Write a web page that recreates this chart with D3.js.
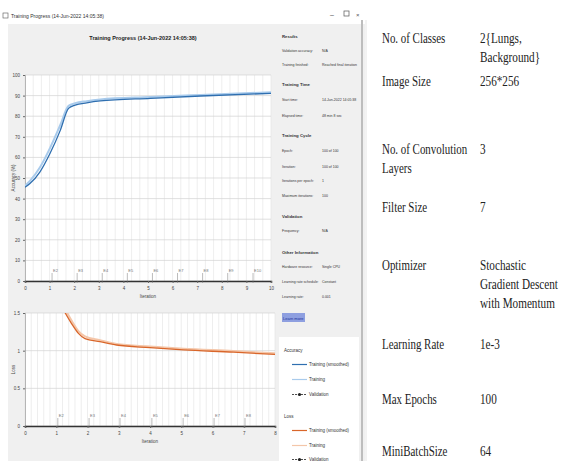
<!DOCTYPE html>
<html><head><meta charset="utf-8">
<script src="https://cdn.jsdelivr.net/npm/d3@7"></script>
<style>body{margin:0;background:#fff}svg{display:block;font-family:"Liberation Sans",Arial,sans-serif}</style>
</head><body>
<svg id="c" width="563" height="461"></svg>
<script>
// ---------- data ----------
const accTicks = [0,10,20,30,40,50,60,70,80,90,100];
const topXTicks = [0,1,2,3,4,5,6,7,8,9,10];
const accX = [0,0.2,0.61,1.02,1.43,1.77,2.04,2.51,3.06,5.1,7.14,10];
const accSmooth = [45.5,47.3,53,62,73,83.8,85.4,86.5,87.4,88.7,89.8,91.1];
const accRaw = [46.2,48.6,55.2,64.6,75.6,85.0,86.3,87.3,88.1,89.3,90.3,91.6];
const epochTop = [1.1,2.12,3.14,4.16,5.18,6.2,7.22,8.24,9.27];

const lossTicks = [0,0.5,1,1.5];
const botXTicks = [0,1,2,3,4,5,6,7,8];
const lossX = [1.22,1.49,1.71,1.92,2.4,2.93,4,5.07,6.67,8];
const lossSmooth = [1.55,1.36,1.23,1.16,1.12,1.075,1.04,1.01,0.98,0.95];
const lossRaw = [1.6,1.4,1.26,1.19,1.14,1.09,1.055,1.025,0.995,0.965];
const epochBot = [1.05,2.05,3.04,4.06,5.06,6.05,7.04];

const infoLines = [
  ["Results","",true],["Validation accuracy:","N/A"],["Training finished:","Reached final iteration"],
  ["Training Time","",true],["Start time:","14-Jun-2022 14:05:38"],["Elapsed time:","48 min 8 sec"],
  ["Training Cycle","",true],["Epoch:","100 of 100"],["Iteration:","100 of 100"],["Iterations per epoch:","1"],["Maximum iterations:","100"],
  ["Validation","",true],["Frequency:","N/A"],
  ["Other Information","",true],["Hardware resource:","Single CPU"],["Learning rate schedule:","Constant"],["Learning rate:","0.001"]
];
const infoY = [38,52,66,86,101,117,137,152,168,182,197,218,232,254,268,283,298];

const tableLabels = [["No. of Classes"],["Image Size"],["No. of Convolution","Layers"],["Filter Size"],["Optimizer"],["Learning Rate"],["Max Epochs"],["MiniBatchSize"]];
const tableValues = [["2{Lungs,","Background}"],["256*256"],["3"],["7"],["Stochastic","Gradient Descent","with Momentum"],["1e-3"],["100"],["64"]];
const tableY = [43,86,154,212,270,349,404,456];

// ---------- drawing ----------
const svg = d3.select("#c");
const BLUE="#2f6fb0", LBLUE="#a9cbec", ORANGE="#d9662a", LORANGE="#f4c6a9";

// window background
svg.append("rect").attr("x",0).attr("y",0).attr("width",365).attr("height",461).attr("fill","#ffffff");
svg.append("rect").attr("x",8).attr("y",24).attr("width",357).attr("height",437).attr("fill","#f0f0f0");
// title bar
svg.append("rect").attr("x",3).attr("y",13).attr("width",5).attr("height",5).attr("fill","none").attr("stroke","#555").attr("stroke-width",0.6);
svg.append("text").attr("x",11).attr("y",18).attr("font-size",5).attr("fill","#333").text("Training Progress (14-Jun-2022 14:05:38)");
svg.append("text").attr("x",330).attr("y",17).attr("font-size",7).attr("fill","#555").text("–");
svg.append("rect").attr("x",344).attr("y",11).attr("width",5).attr("height",5).attr("fill","none").attr("stroke","#555").attr("stroke-width",0.7);
svg.append("text").attr("x",356).attr("y",17).attr("font-size",6).attr("fill","#555").text("×");
svg.append("text").attr("x",143).attr("y",40).attr("text-anchor","middle").attr("font-size",5.5).attr("font-weight","bold").attr("fill","#222").text("Training Progress (14-Jun-2022 14:05:38)");

function panel(g, x0, x1, y0, y1, xScaleDom, yDom, xTicks, yTicks, minorStep, yFmt, ylabel, epochs, clipId){
  const x = d3.scaleLinear().domain(xScaleDom).range([x0,x1]);
  const y = d3.scaleLinear().domain(yDom).range([y1,y0]);
  g.append("rect").attr("x",x0).attr("y",y0).attr("width",x1-x0).attr("height",y1-y0).attr("fill","#fff");
  g.append("g").selectAll("line").data(d3.range(xScaleDom[0],xScaleDom[1]+1e-6,minorStep)).join("line")
    .attr("x1",d=>x(d)).attr("x2",d=>x(d)).attr("y1",y0).attr("y2",y1).attr("stroke","#e3e3e3").attr("stroke-width",0.6);
  g.append("g").selectAll("line").data(yTicks).join("line")
    .attr("x1",x0).attr("x2",x1).attr("y1",d=>y(d)).attr("y2",d=>y(d)).attr("stroke","#d2d2d2").attr("stroke-width",0.7);
  const ya = g.append("g").attr("transform",`translate(${x0},0)`).call(d3.axisLeft(y).tickValues(yTicks).tickFormat(yFmt).tickSize(2));
  ya.select(".domain").attr("stroke","#888").attr("stroke-width",0.6);
  ya.selectAll("text").attr("font-size",4.5).attr("fill","#444");
  ya.selectAll("line").attr("stroke","#666");
  const xa = g.append("g").attr("transform",`translate(0,${y1})`).call(d3.axisBottom(x).tickValues(xTicks).tickSize(2).tickFormat(d3.format("d")));
  xa.select(".domain").attr("stroke","#333").attr("stroke-width",1.5);
  xa.selectAll("text").attr("font-size",4.5).attr("fill","#444").attr("dy","0.9em");
  xa.selectAll("line").attr("stroke","#666");
  const em = g.append("g").selectAll("g").data(epochs).join("g");
  em.append("line").attr("x1",d=>x(d)).attr("x2",d=>x(d)).attr("y1",y1-8).attr("y2",y1+2).attr("stroke","#777").attr("stroke-width",0.5);
  em.append("text").attr("x",d=>x(d)+1).attr("y",y1-9).attr("font-size",4).attr("fill","#777").text((d,i)=>"E"+(i+2));
  g.append("text").attr("x",(x0+x1)/2).attr("y",y1+17).attr("text-anchor","middle").attr("font-size",4.5).attr("fill","#444").text("Iteration");
  g.append("text").attr("transform",`translate(${x0-10},${(y0+y1)/2}) rotate(-90)`).attr("text-anchor","middle").attr("font-size",4.5).attr("fill","#444").text(ylabel);
  g.append("clipPath").attr("id",clipId).append("rect").attr("x",x0).attr("y",y0).attr("width",x1-x0).attr("height",y1-y0);
  return {x,y};
}

const gTop = svg.append("g");
const t = panel(gTop,25,271,75,281,[0,10],[0,100],topXTicks,accTicks,1/3,d=>d,"Accuracy (%)",epochTop,"clipTop");
const lineTop = d3.line().x((d,i)=>t.x(accX[i])).y(d=>t.y(d)).curve(d3.curveMonotoneX);
gTop.append("path").attr("clip-path","url(#clipTop)").attr("d",lineTop(accRaw)).attr("fill","none").attr("stroke",LBLUE).attr("stroke-width",2);
gTop.append("path").attr("clip-path","url(#clipTop)").attr("d",lineTop(accSmooth)).attr("fill","none").attr("stroke",BLUE).attr("stroke-width",1.3);

const gBot = svg.append("g");
const b = panel(gBot,25,275,313,426,[0,8],[0,1.5],botXTicks,lossTicks,0.2,d=>d,"Loss",epochBot,"clipBot");
const lineBot = d3.line().x((d,i)=>b.x(lossX[i])).y(d=>b.y(d)).curve(d3.curveMonotoneX);
gBot.append("path").attr("clip-path","url(#clipBot)").attr("d",lineBot(lossRaw)).attr("fill","none").attr("stroke",LORANGE).attr("stroke-width",2);
gBot.append("path").attr("clip-path","url(#clipBot)").attr("d",lineBot(lossSmooth)).attr("fill","none").attr("stroke",ORANGE).attr("stroke-width",1.3);

// info panel
const info = svg.append("g");
info.append("line").attr("x1",362).attr("x2",362).attr("y1",20).attr("y2",461).attr("stroke","#bdbdbd").attr("stroke-width",2);
info.selectAll("text.l").data(infoLines).join("text").attr("x",282).attr("y",(d,i)=>infoY[i])
  .attr("font-size",d=>d[2]?4.3:3.5).attr("font-weight",d=>d[2]?"bold":"normal").attr("fill","#333").text(d=>d[0]);
info.selectAll("text.v").data(infoLines.filter(d=>d[1])).join("text")
  .attr("x",322).attr("y",d=>infoY[infoLines.indexOf(d)]).attr("font-size",3.5).attr("fill","#333").text(d=>d[1]);
info.append("rect").attr("x",282).attr("y",313).attr("width",23).attr("height",9).attr("fill","#8e9fe0");
info.append("text").attr("x",283).attr("y",319.5).attr("font-size",4).attr("fill","#1b2f9a").text("Learn more");

// legend
const leg = svg.append("g");
leg.append("rect").attr("x",279).attr("y",337).attr("width",80).attr("height",124).attr("fill","#fff");
const legItems = [
  {t:"Accuracy",y:352,h:true},{t:"Training (smoothed)",y:366,c:BLUE},{t:"Training",y:381,c:LBLUE},{t:"Validation",y:396,c:"#222",m:true},
  {t:"Loss",y:418,h:true},{t:"Training (smoothed)",y:432,c:ORANGE},{t:"Training",y:447,c:LORANGE},{t:"Validation",y:461,c:"#222",m:true}
];
legItems.forEach(d=>{
  if(d.h){leg.append("text").attr("x",284).attr("y",d.y).attr("font-size",4.5).attr("fill","#333").text(d.t);return;}
  leg.append("line").attr("x1",292).attr("x2",307).attr("y1",d.y-1.5).attr("y2",d.y-1.5).attr("stroke",d.c).attr("stroke-width",d.m?0.8:1.2).attr("stroke-dasharray",d.m?"2,1":null);
  if(d.m) leg.append("circle").attr("cx",299.5).attr("cy",d.y-1.5).attr("r",1.6).attr("fill","#222");
  leg.append("text").attr("x",309).attr("y",d.y).attr("font-size",4.5).attr("fill","#333").text(d.t);
});

// right table
const tbl = svg.append("g").attr("font-family","'Liberation Serif','Times New Roman',serif").attr("font-size",14).attr("fill","#222");
svg.append("line").attr("x1",366).attr("x2",366).attr("y1",20).attr("y2",461).attr("stroke","#e6e6e6");
tableLabels.forEach((lines,i)=>{
  lines.forEach((s,j)=>tbl.append("text").attr("transform",`translate(382,${tableY[i]+j*19}) scale(0.78,1)`).text(s));
});
tableValues.forEach((lines,i)=>{
  lines.forEach((s,j)=>tbl.append("text").attr("transform",`translate(480,${tableY[i]+j*19}) scale(0.8,1)`).text(s));
});
</script>
</body></html>
